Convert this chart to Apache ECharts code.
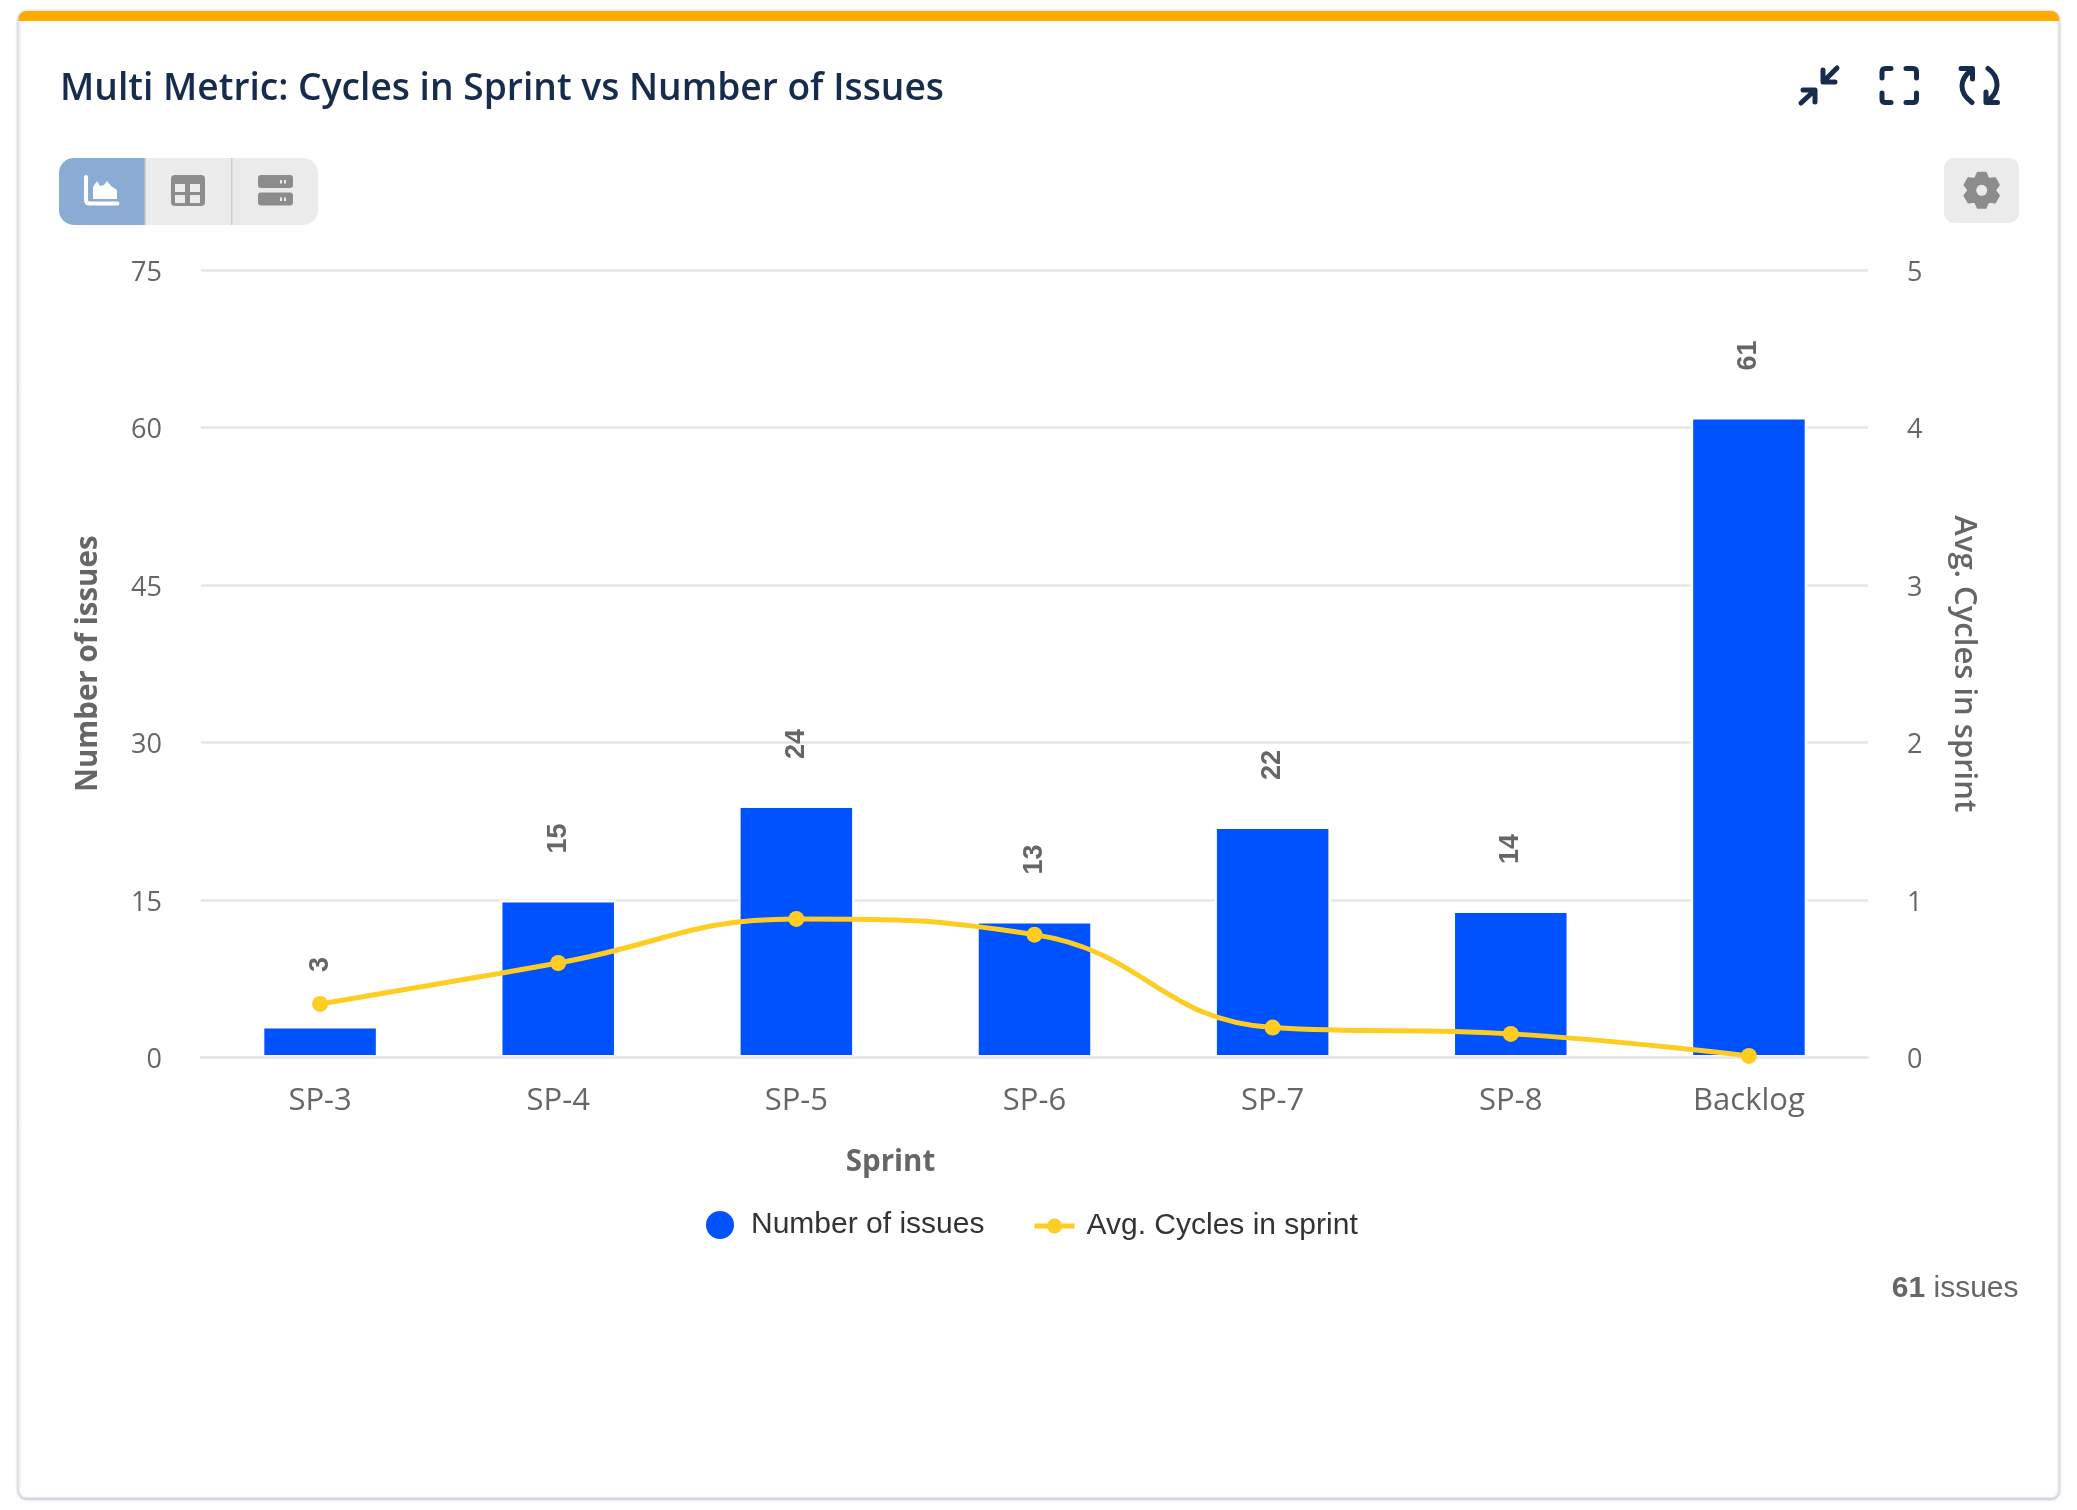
<!DOCTYPE html>
<html>
<head>
<meta charset="utf-8">
<style>html,body{margin:0;padding:0;background:#fff}#c{width:2077px;height:1510px}</style>
<script src="https://cdn.jsdelivr.net/npm/echarts@6/dist/echarts.min.js"></script>
</head>
<body>
<div id="c"></div>
<script>
const categories = ['SP-3','SP-4','SP-5','SP-6','SP-7','SP-8','Backlog'];
const issues = [3,15,24,13,22,14,61];
const avgCycles = [0.34,0.60,0.88,0.78,0.19,0.15,0.01];
const leftTicks = {min:0,max:75,interval:15};
const rightTicks = {min:0,max:5,interval:1};
const titleText = 'Multi Metric: Cycles in Sprint vs Number of Issues';

const SANS = '"Open Sans"';
const ARIAL = '"Liberation Sans"';
const GRID = '#E6E6E6', TXT = '#666666', NAVY = '#172B4D', ICON='#8C8C8C', BTN='#EBEBEB';

let shapeCount = 0;
function pathEl(d,style){
  const name='iconShape'+(shapeCount++);
  echarts.graphic.registerShape(name, echarts.graphic.extendPath(d,{}));
  return {type:name,shape:{},style,silent:true};
}
function gearPath(cx,cy,rO,rI,n){
  let d='';
  for(let i=0;i<n;i++){
    const a=i*2*Math.PI/n - Math.PI/2, w=Math.PI/n;
    const pts=[[a-w*0.95,rI],[a-w*0.42,rO],[a+w*0.42,rO],[a+w*0.95,rI]];
    pts.forEach((p,j)=>{
      const x=cx+p[1]*Math.cos(p[0]), y=cy+p[1]*Math.sin(p[0]);
      d+=(i===0&&j===0?'M':'L')+x.toFixed(2)+' '+y.toFixed(2)+' ';
    });
  }
  return d+'Z';
}
function stroke(d,color,w){
  return pathEl(d,{fill:'none',stroke:color,lineWidth:w,lineCap:'round',lineJoin:'round'});
}
function box(x,y,w,h,r,fill,extra){
  return Object.assign({type:'rect',shape:{x,y,width:w,height:h,r},style:{fill},silent:true},extra||{});
}
function tickLabel(margin){
  return {color:TXT,margin,formatter:'{v|{value}}',
    rich:{v:{fontFamily:'Open Sans',fontSize:27,color:TXT,padding:[6,0,0,0]}}};
}

const chrome = [
  box(18.5,11,2040.5,1487,8,'#fff',{z:-10,style:{fill:'#fff',stroke:'#DFE3EA',lineWidth:1,shadowColor:'rgba(9,30,66,0.3)',shadowBlur:3,shadowOffsetY:1}}),
  box(18.5,11,2040.5,10,[8,8,0,0],'#FFAB00',{z:-9}),
  // view toggle
  box(59,158,259,67,[15,15,15,15],BTN,{z:-9}),
  box(59,158,86,67,[15,0,0,15],'#89ABD4',{z:-8}),
  box(144.5,158,1.5,67,0,'#CFCFCF',{z:-8}),
  box(231,158,1.5,67,0,'#CFCFCF',{z:-8}),
  // chart icon
  stroke('M86 177 L86 200 Q86 203.5 89.5 203.5 L117.5 203.5','#fff',4),
  pathEl('M93 199 L93 187 L97 181 L100 186 L104 185 L107 181 L111 186 L117 190 L117 199 Z',{fill:'#fff'}),
  // grid icon
  box(171,175,34,31,4,ICON),
  box(175,184,10,8,0,BTN),box(190,184,10,8,0,BTN),
  box(175,195,10,8,0,BTN),box(190,195,10,8,0,BTN),
  // rows icon
  box(258,175,35,13,3,ICON),box(258,192.5,35,13,3,ICON),
  box(280,180,2,3.5,0,BTN),box(284,180,2,3.5,0,BTN),
  box(280,197.5,2,3.5,0,BTN),box(284,197.5,2,3.5,0,BTN),
  // settings
  box(1944,158,75,65,10,BTN,{z:-9}),
  pathEl(gearPath(1981.7,190.3,18,13.5,6),{fill:ICON,stroke:ICON,lineWidth:2,lineJoin:'round'}),
  {type:'circle',shape:{cx:1981.7,cy:190.3,r:5.5},style:{fill:BTN},silent:true,z:1},
  // collapse
  stroke('M1801 103 L1814 91 M1803 90 L1815 90 L1815 102',NAVY,5),
  stroke('M1837 68 L1823.5 81.5 M1823 70 L1823 82 L1835 82',NAVY,5),
  // fullscreen
  stroke('M1882 78 L1882 72 Q1882 68.5 1885.5 68.5 L1891 68.5',NAVY,5),
  stroke('M1906 68.5 L1913 68.5 Q1916.5 68.5 1916.5 72 L1916.5 78',NAVY,5),
  stroke('M1882 93 L1882 99 Q1882 102.5 1885.5 102.5 L1891 102.5',NAVY,5),
  stroke('M1906 102.5 L1913 102.5 Q1916.5 102.5 1916.5 99 L1916.5 93',NAVY,5),
  // refresh
  stroke('M1961 68.5 L1972.5 68.5 L1972.5 79 M1970 71 Q1962 78 1962 86 Q1962 95 1972 102.5',NAVY,5),
  stroke('M1997.5 102.5 L1986 102.5 L1986 92 M1988 68.5 Q1997 75 1997 85 Q1997 93 1989 100',NAVY,5),
  // footer count
  {type:'text',x:2018.5,y:1288.5,silent:true,style:{text:'{b|61} issues',align:'right',verticalAlign:'middle',
    fill:TXT,fontFamily:'Liberation Sans',fontSize:30,rich:{b:{fontFamily:'Liberation Sans',fontWeight:'bold',fontSize:30,fill:TXT}}}}
];

const chart = echarts.init(document.getElementById('c'));
chart.setOption({
  animation:false,
  backgroundColor:'#fff',
  title:{text:titleText,left:60,top:71,padding:0,textStyle:{fontFamily:SANS,fontSize:37.2,fontWeight:600,color:NAVY}},
  grid:{left:201,right:209,top:270,bottom:452.5,containLabel:false},
  legend:[
    {data:['Number of issues'],icon:'circle',itemWidth:30,itemHeight:30,left:704,top:1209,padding:0,itemGap:0,
      textStyle:{fontFamily:ARIAL,fontSize:30,color:'#333',padding:[0,0,0,11]}},
    {data:['Avg. Cycles in sprint'],itemWidth:40,itemHeight:19,left:1032,top:1211,padding:0,itemGap:0,
      lineStyle:{width:5},
      textStyle:{fontFamily:ARIAL,fontSize:30,color:'#333',padding:[0,0,4,7]}}
  ],
  xAxis:{type:'category',data:categories,z:3,
    axisLine:{show:true,lineStyle:{color:GRID,width:2.5}},axisTick:{show:false},
    axisLabel:{fontFamily:SANS,fontSize:31,color:TXT,margin:28,lineHeight:32},
    name:'Sprint',nameLocation:'middle',nameGap:90,
    nameTextStyle:{fontFamily:SANS,fontSize:29.5,fontWeight:700,color:TXT,padding:[0,288,0,0]}},
  yAxis:[
    Object.assign({type:'value',position:'left',
      axisLine:{show:false},axisTick:{show:false},
      splitLine:{show:true,lineStyle:{color:GRID,width:2.5}},
      axisLabel:tickLabel(39),
      name:'Number of issues',nameLocation:'middle',nameGap:97,nameRotate:90,
      nameTextStyle:{fontFamily:SANS,fontSize:29.5,fontWeight:700,color:TXT}},leftTicks),
    Object.assign({type:'value',position:'right',
      axisLine:{show:false},axisTick:{show:false},splitLine:{show:false},
      axisLabel:tickLabel(39),
      name:'Avg. Cycles in sprint',nameLocation:'middle',nameGap:80,nameRotate:-90,
      nameTextStyle:{fontFamily:SANS,fontSize:31,fontWeight:600,color:TXT}},rightTicks)
  ],
  series:[
    {name:'Number of issues',type:'bar',yAxisIndex:0,data:issues,barWidth:116.5,z:2,
      itemStyle:{color:'#0052FF',borderColor:'#fff',borderWidth:2.5},
      label:{show:true,position:'top',distance:60,offset:[1.5,0],rotate:90,align:'center',verticalAlign:'middle',
        fontFamily:ARIAL,fontSize:27,fontWeight:'bold',color:TXT}},
    {name:'Avg. Cycles in sprint',type:'line',yAxisIndex:1,data:avgCycles,z:5,smooth:0.45,
      symbol:'circle',symbolSize:16,showSymbol:true,
      lineStyle:{color:'#FFCC22',width:5},itemStyle:{color:'#FFCC22'}}
  ],
  graphic:{elements:chrome}
});
</script>
</body>
</html>
